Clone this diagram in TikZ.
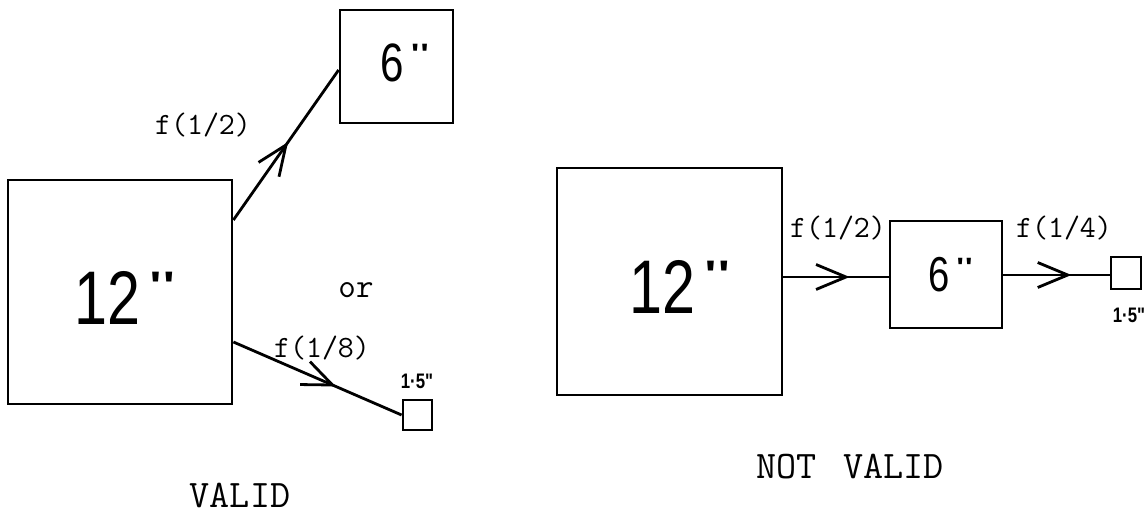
\documentclass[tikz,border=0pt]{standalone}
\usepackage{fontspec}
\usepackage{graphicx}
\newfontfamily\narrowsans[FakeStretch=0.78]{Liberation Sans}
\newfontfamily\smallsans[FakeStretch=0.8]{Liberation Sans}
\usetikzlibrary{arrows.meta,decorations.markings}
\newcommand\inchmk{\hspace{0.12em}\raisebox{0.28em}{\scalebox{1.25}[0.6]{"}}}
\begin{document}
\begin{tikzpicture}[x=0.5pt,y=-0.5pt,line width=1.4pt,
  box/.style={draw,rectangle,inner sep=0pt,line width=1.4pt},
  bigsans/.style={font=\narrowsans\fontsize{38}{40}\selectfont,inner sep=0pt},
  midsans/.style={font=\narrowsans\fontsize{27}{30}\selectfont,inner sep=0pt},
  tinysans/.style={font=\smallsans\bfseries\fontsize{10.5}{12}\selectfont,inner sep=0pt},
  lab/.style={font=\ttfamily\fontsize{15.5}{18}\selectfont,inner sep=0pt},
  captext/.style={font=\ttfamily\fontsize{19.5}{22}\selectfont,inner sep=0pt},
  midarrow/.style={postaction={decorate},decoration={markings,
     mark=at position #1 with {\arrow{Straight Barb[length=15pt,width=12.5pt]}}}}]
\useasboundingbox (0,0) rectangle (1148,513);

% boxes
\node[box,minimum width=112pt,minimum height=112pt] (L) at (120,292) {};
\node[box,minimum width=56.5pt,minimum height=56.5pt] (T) at (396.5,66.5) {};
\node[box,minimum width=14.5pt,minimum height=15pt] (S) at (417.5,415) {};
\node[box,minimum width=112.5pt,minimum height=113.5pt] (R) at (669.5,281.5) {};
\node[box,minimum width=56pt,minimum height=53.5pt] (R6) at (946,274.5) {};
\node[box,minimum width=15pt,minimum height=16pt] (RS) at (1126,273) {};

% box texts
\node[bigsans] (tL) at (125,298) {12\inchmk};
\node[midsans] (tT) at (405,63) {6\inchmk};
\node[bigsans] (tR) at (680,287) {12\inchmk};
\node[midsans,font=\narrowsans\fontsize{24.5}{27}\selectfont] (tR6) at (951,275) {6\inchmk};
\node[tinysans] (tS) at (417,381) {1·5"};
\node[tinysans] (tRS) at (1129,315) {1·5"};

% connectors
\draw[midarrow=0.52] (L.east |- 0,220) -- (T.west |- 0,70);
\draw[midarrow=0.61] (L.east |- 0,342) -- (S.west);
\draw[midarrow=0.63] (R.east |- 0,277) -- (R6.west |- 0,277);
\draw[midarrow=0.64] (R6.east |- 0,275) -- (RS.west |- 0,275);

% labels
\node[lab] (l1) at (203,125) {f(1/2)};
\node[lab] (l2) at (322,348) {f(1/8)};
\node[lab] (l3) at (838,228) {f(1/2)};
\node[lab] (l4) at (1064,228) {f(1/4)};
\node[captext,font=\ttfamily\fontsize{17}{20}\selectfont] (or) at (356,290) {or};
\node[captext] (v) at (240,495) {VALID};
\node[captext] (nv) at (850,467) {NOT\ \,VALID};
\end{tikzpicture}
\end{document}
